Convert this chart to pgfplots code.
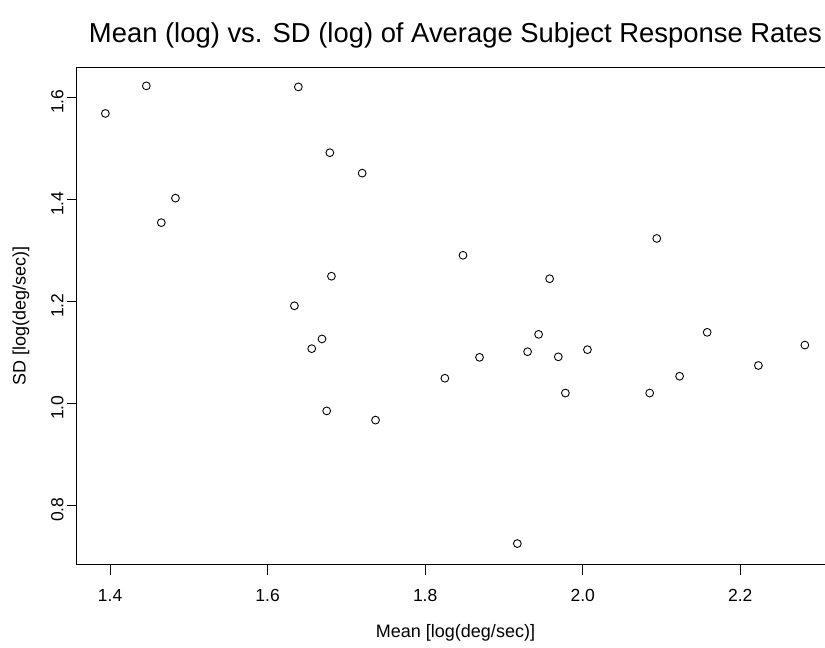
\documentclass[border=0pt]{standalone}
\usepackage{fontspec}
\setmainfont{Liberation Sans}
\usepackage{pgfplots}
\pgfplotsset{compat=1.18}

\begin{document}
\begin{tikzpicture}
\path[use as bounding box] (0,0) rectangle (825pt,648pt);
\clip (0,0) rectangle (825pt,648pt);
\begin{axis}[
    at={(77pt,83pt)}, anchor=south west,
    scale only axis,
    width=757pt, height=498pt,
    xmin=1.358, xmax=2.319,
    ymin=0.684, ymax=1.660,
    xtick={1.4,1.6,1.8,2.0,2.2},
    ytick={0.8,1.0,1.2,1.4,1.6},
    minor tick num=0,
    tick align=outside,
    xtick pos=bottom, ytick pos=left,
    major tick length=10pt,
    axis line style={line width=1pt},
    every tick/.style={black, line width=1pt},
    tick label style={font=\fontsize{17.5}{20}\selectfont},
    /pgf/number format/.cd, fixed, fixed zerofill, precision=1, assume math mode=true,
    /pgfplots/.cd,
    xticklabel style={yshift=-11pt},
    yticklabel style={rotate=90, anchor=south, xshift=-4pt},
    title={Mean (log) vs. SD (log) of Average Subject Response Rates},
    title style={at={(axis description cs:0.5,1.038)}, anchor=base, font=\fontsize{27.4}{30}\selectfont},
    xlabel={Mean [log(deg/sec)]},
    xlabel style={at={(axis description cs:0.5,-0.145)}, anchor=base, font=\fontsize{18}{20}\selectfont},
    ylabel={SD [log(deg/sec)]},
    ylabel style={at={(axis description cs:-0.068,0.5)}, anchor=base, font=\fontsize{18}{20}\selectfont},
]
\addplot[only marks, mark=o, mark size=3.9pt, mark options={line width=0.9pt, black}] coordinates {
    (1.394,1.569) (1.446,1.623) (1.639,1.621) (1.679,1.492) (1.720,1.452)
    (1.483,1.403) (1.465,1.355) (1.681,1.250) (1.634,1.192) (1.848,1.291)
    (1.958,1.245) (1.669,1.127) (1.656,1.108) (1.944,1.136) (1.930,1.102)
    (1.969,1.092) (1.869,1.091) (1.825,1.050) (1.978,1.021) (1.675,0.986)
    (1.737,0.968) (2.094,1.324) (2.158,1.140) (2.006,1.106) (2.282,1.115)
    (2.223,1.075) (2.123,1.054) (2.085,1.021) (1.917,0.726)
};
\end{axis}
\end{tikzpicture}
\end{document}
